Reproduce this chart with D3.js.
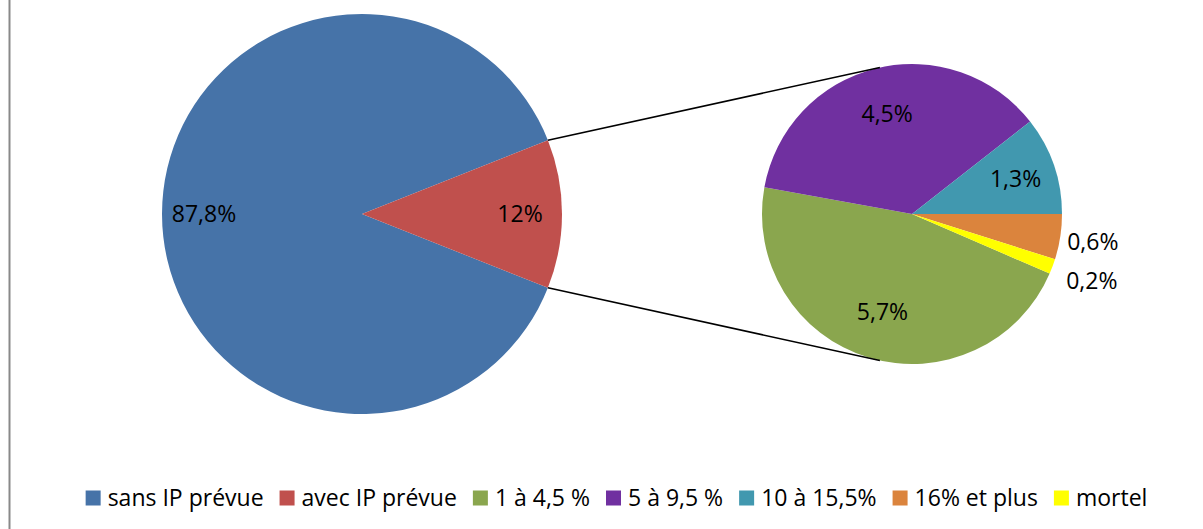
<!DOCTYPE html>
<html>
<head>
<meta charset="utf-8">
<script src="https://cdn.jsdelivr.net/npm/d3@7"></script>
<style>
  body { margin: 0; background: #fff; }
  svg { display: block; font-family: "Open Sans", sans-serif; }
</style>
</head>
<body>
<svg id="chart"></svg>
<script>
const width = 1203;
const height = 529;

// main pie
const mainLabels = ["sans IP prévue", "avec IP prévue"];
const mainValues = [87.8, 12];
const mainText = ["87,8%", "12%"];
const mainColors = ["#4673A8", "#C0504D"];

// detail pie (breakdown of "avec IP prévue")
const subLabels = ["1 à 4,5 %", "5 à 9,5 %", "10 à 15,5%", "16% et plus", "mortel"];
const subValues = [5.7, 4.5, 1.3, 0.6, 0.2];
const subText = ["5,7%", "4,5%", "1,3%", "0,6%", "0,2%"];
const subColors = ["#8AA64E", "#7030A0", "#4198AF", "#DB843D", "#FFFF00"];
// label distance from centre, as a share of the radius
const subLabelPos = [0.68, 0.69, 0.73, 1.22, 1.28];

const svg = d3.select("#chart")
    .attr("width", width)
    .attr("height", height);

// left frame line
svg.append("line")
    .attr("x1", 9.5).attr("x2", 9.5)
    .attr("y1", 0).attr("y2", height)
    .attr("stroke", "#898989")
    .attr("stroke-width", 2);

const big = { cx: 362, cy: 214, r: 200 };
const small = { cx: 912, cy: 214, r: 150 };

// big pie: red slice centered on 3 o'clock
const mainTotal = d3.sum(mainValues);
const redAngle = 2 * Math.PI * mainValues[1] / mainTotal;
const bigStart = Math.PI / 2 + redAngle / 2;
const bigPie = d3.pie().sort(null).startAngle(bigStart).endAngle(bigStart + 2 * Math.PI);
const bigArcs = bigPie(mainValues);
const bigArc = d3.arc().innerRadius(0).outerRadius(big.r);

const gBig = svg.append("g").attr("transform", `translate(${big.cx},${big.cy})`);
gBig.selectAll("path")
    .data(bigArcs)
    .enter()
    .append("path")
    .attr("d", bigArc)
    .attr("fill", (d, i) => mainColors[i]);

const bigLabelArc = d3.arc().innerRadius(big.r * 0.79).outerRadius(big.r * 0.79);
gBig.selectAll("text")
    .data(bigArcs)
    .enter()
    .append("text")
    .attr("transform", d => `translate(${bigLabelArc.centroid(d)})`)
    .attr("text-anchor", "middle")
    .attr("dy", "0.36em")
    .attr("font-size", "23px")
    .attr("fill", "#000")
    .text((d, i) => mainText[i]);

// small pie: "16% et plus" starts at 3 o'clock
const subTotal = d3.sum(subValues);
const smallStart = Math.PI / 2 + 2 * Math.PI * (subValues[3] + subValues[4]) / subTotal;
const smallPie = d3.pie().sort(null).startAngle(smallStart).endAngle(smallStart + 2 * Math.PI);
const smallArcs = smallPie(subValues);
const smallArc = d3.arc().innerRadius(0).outerRadius(small.r);

const gSmall = svg.append("g").attr("transform", `translate(${small.cx},${small.cy})`);
gSmall.selectAll("path")
    .data(smallArcs)
    .enter()
    .append("path")
    .attr("d", smallArc)
    .attr("fill", (d, i) => subColors[i]);

gSmall.selectAll("text")
    .data(smallArcs)
    .enter()
    .append("text")
    .attr("transform", (d, i) => {
        const r = small.r * subLabelPos[i];
        return `translate(${d3.arc().innerRadius(r).outerRadius(r).centroid(d)})`;
    })
    .attr("text-anchor", "middle")
    .attr("dy", "0.36em")
    .attr("font-size", "23px")
    .attr("fill", "#000")
    .text((d, i) => subText[i]);

// connector lines: tangents from red slice edges to the small pie
function tangentPoint(px, py, upper) {
    const dx = px - small.cx, dy = py - small.cy;
    const d = Math.hypot(dx, dy);
    const base = Math.atan2(dy, dx);
    const off = Math.acos(small.r / d);
    const a = upper ? base + off : base - off;
    return [small.cx + small.r * Math.cos(a), small.cy + small.r * Math.sin(a)];
}
const redSlice = bigArcs[1];
const edges = [
    { a: redSlice.startAngle, upper: true },
    { a: redSlice.endAngle, upper: false }
];
edges.forEach(e => {
    const px = big.cx + big.r * Math.sin(e.a);
    const py = big.cy - big.r * Math.cos(e.a);
    const t = tangentPoint(px, py, e.upper);
    svg.append("line")
        .attr("x1", px).attr("y1", py)
        .attr("x2", t[0]).attr("y2", t[1])
        .attr("stroke", "#000")
        .attr("stroke-width", 1.5);
});

// legend
const legendItems = mainLabels.map((l, i) => ({ label: l, color: mainColors[i] }))
    .concat(subLabels.map((l, i) => ({ label: l, color: subColors[i] })));
const legend = svg.append("g").attr("class", "legend");
const box = 15, boxGap = 7, itemGap = 16, legendY = 498;
let lx = 0;
legendItems.forEach(item => {
    const g = legend.append("g").attr("transform", `translate(${lx},0)`);
    g.append("rect")
        .attr("x", 0).attr("y", legendY - box / 2)
        .attr("width", box).attr("height", box)
        .attr("fill", item.color);
    const t = g.append("text")
        .attr("x", box + boxGap).attr("y", legendY)
        .attr("dy", "0.36em")
        .attr("font-size", "23px")
        .attr("fill", "#000")
        .text(item.label);
    lx += box + boxGap + t.node().getComputedTextLength() + itemGap;
});
const legendWidth = lx - itemGap;
legend.attr("transform", `translate(${616.5 - legendWidth / 2},0)`);
</script>
</body>
</html>
